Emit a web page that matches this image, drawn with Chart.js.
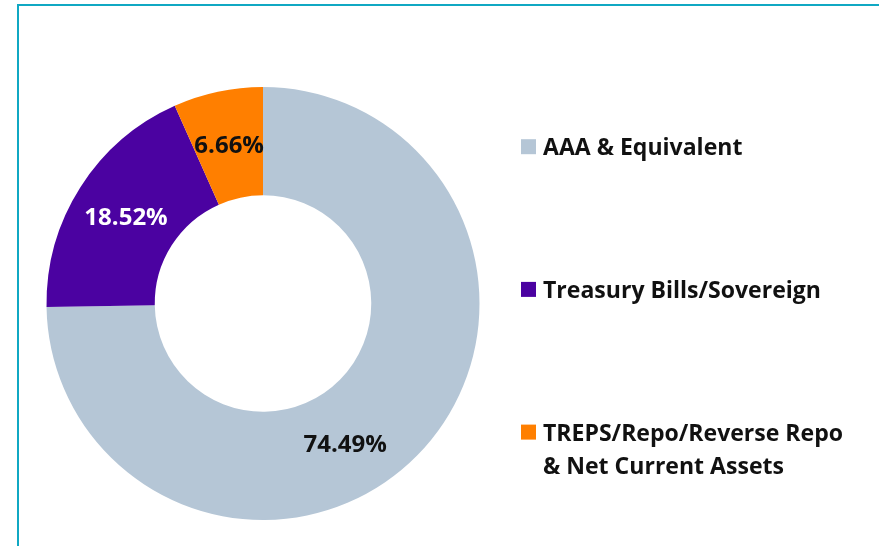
<!DOCTYPE html>
<html>
<head>
<meta charset="utf-8">
<script src="https://cdn.jsdelivr.net/npm/chart.js@4.4.1/dist/chart.umd.min.js"></script>
<style>
  html, body { margin: 0; padding: 0; background: #ffffff; }
  #wrap { position: relative; width: 879px; height: 546px; }
  canvas { display: block; }
</style>
</head>
<body>
<div id="wrap"><canvas id="c" width="879" height="546"></canvas></div>
<script>
// ---- data ----
const categories = ["AAA & Equivalent", "Treasury Bills/Sovereign", "TREPS/Repo/Reverse Repo\n& Net Current Assets"];
const values = [74.49, 18.52, 6.66];
const valueLabels = ["74.49%", "18.52%", "6.66%"];
const colors = ["#b5c6d6", "#4b02a1", "#ff7f00"];
const labelColors = ["#111111", "#ffffff", "#111111"];

const FONT = "'Open Sans', 'Noto Sans', sans-serif";

const framePlugin = {
  id: 'frame',
  beforeDraw(chart) {
    const ctx = chart.ctx;
    ctx.save();
    ctx.fillStyle = '#ffffff';
    ctx.fillRect(0, 0, chart.width, chart.height);
    ctx.fillStyle = '#10a8c3';
    ctx.fillRect(17, 4, chart.width - 17, 2);
    ctx.fillRect(17, 4, 2, chart.height - 4);
    ctx.restore();
  }
};

const sliceLabelPlugin = {
  id: 'sliceLabels',
  afterDatasetsDraw(chart, args, opts) {
    const ctx = chart.ctx;
    const meta = chart.getDatasetMeta(0);
    ctx.save();
    ctx.font = "bold 24px " + FONT;
    ctx.textAlign = 'center';
    ctx.textBaseline = 'alphabetic';
    meta.data.forEach((arc, i) => {
      const p = arc.getProps(['x', 'y', 'startAngle', 'endAngle', 'innerRadius', 'outerRadius'], true);
      const f = (opts.anglePos && opts.anglePos[i] != null) ? opts.anglePos[i] : 0.5;
      const a = p.startAngle + (p.endAngle - p.startAngle) * f;
      const r = (p.innerRadius + p.outerRadius) / 2;
      ctx.fillStyle = labelColors[i];
      ctx.fillText(valueLabels[i], p.x + Math.cos(a) * r, p.y + Math.sin(a) * r + 8.8);
    });
    ctx.restore();
  }
};

const legendPlugin = {
  id: 'sideLegend',
  afterDraw(chart, args, opts) {
    const ctx = chart.ctx;
    ctx.save();
    ctx.font = "bold 24px " + FONT;
    ctx.textAlign = 'left';
    ctx.textBaseline = 'alphabetic';
    const sx = opts.condense;
    categories.forEach((name, i) => {
      const cy = opts.top + i * opts.step;
      ctx.fillStyle = colors[i];
      ctx.fillRect(opts.x, cy - 7.5, 15, 15);
      ctx.fillStyle = '#111111';
      name.split('\n').forEach((line, j) => {
        ctx.save();
        ctx.translate(opts.x + 22, cy + 8.7 + j * opts.lineHeight);
        ctx.scale(sx, 1);
        ctx.fillText(line, 0, 0);
        ctx.restore();
      });
    });
    ctx.restore();
  }
};

new Chart(document.getElementById('c'), {
  type: 'doughnut',
  data: {
    labels: categories,
    datasets: [{
      data: values,
      backgroundColor: colors,
      borderWidth: 0,
      hoverOffset: 0
    }]
  },
  options: {
    responsive: false,
    animation: false,
    cutout: '50%',
    rotation: 0,
    layout: { padding: { left: 46.5, top: 87, right: 399.5, bottom: 26 } },
    plugins: {
      legend: { display: false },
      tooltip: { enabled: false },
      sliceLabels: { anglePos: [0.556, 0.5, 0.5] },
      sideLegend: { x: 521, top: 146.7, step: 142.7, lineHeight: 33, condense: 0.96 }
    }
  },
  plugins: [framePlugin, sliceLabelPlugin, legendPlugin]
});
</script>
</body>
</html>
